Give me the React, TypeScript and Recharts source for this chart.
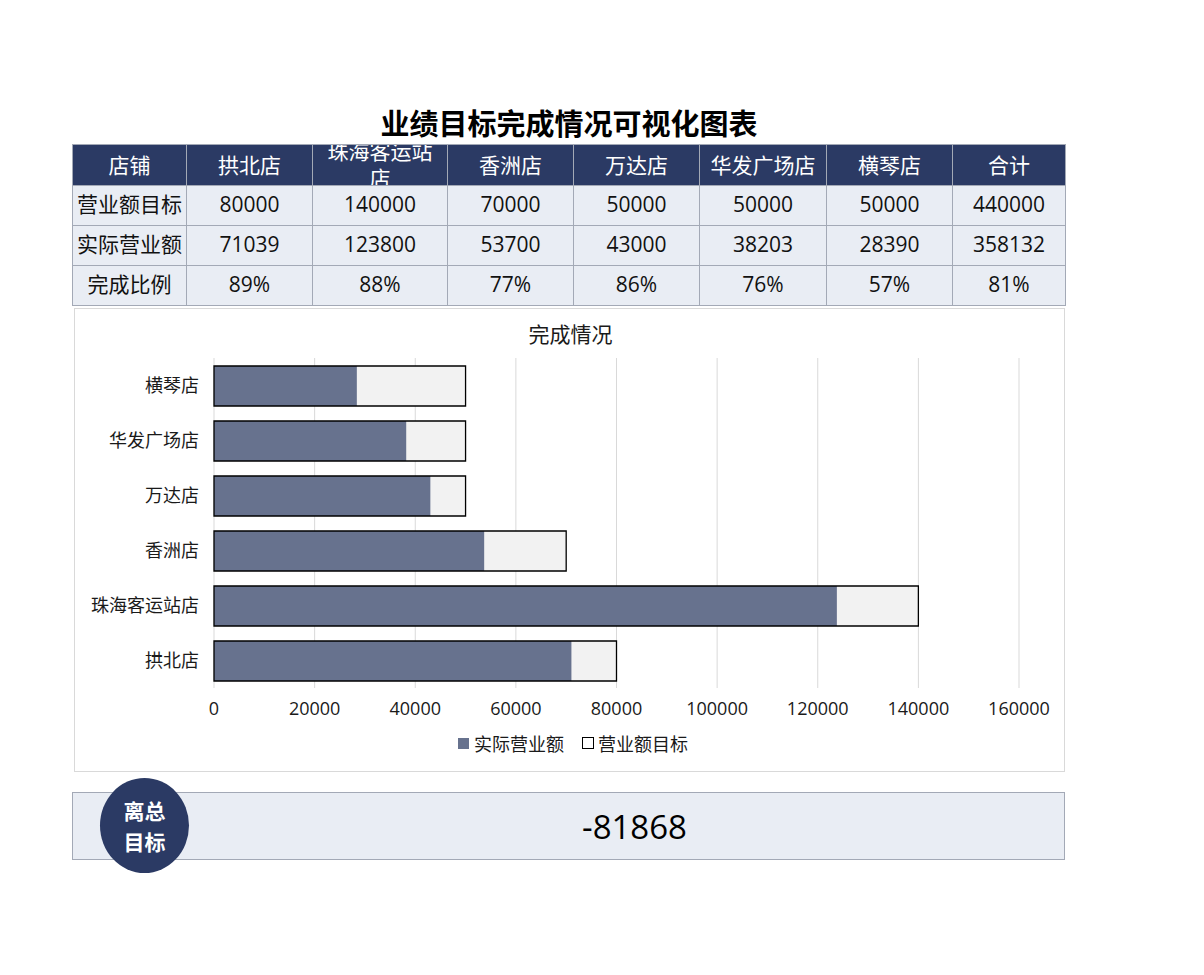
import React from 'react';
import { BarChart, Bar, XAxis, YAxis, CartesianGrid, Legend } from 'recharts';

const stores = ['拱北店', '珠海客运站店', '香洲店', '万达店', '华发广场店', '横琴店'];
const targets = [80000, 140000, 70000, 50000, 50000, 50000];
const actuals = [71039, 123800, 53700, 43000, 38203, 28390];
const xTicks = [0, 20000, 40000, 60000, 80000, 100000, 120000, 140000, 160000];

const FONT = '"Open Sans", "Noto Sans CJK SC", sans-serif';
const NAVY = '#2b3a64';
const PALE = '#e9edf4';
const LINE = '#a3a9b6';
const BAR = '#67728e';

const chartData = stores.map((s, i) => ({ store: s, target: targets[i], actual: actuals[i] }));

const totalTarget = targets.reduce((a, b) => a + b, 0);
const totalActual = actuals.reduce((a, b) => a + b, 0);
const pct = (a: number, t: number) => Math.round((a / t) * 100) + '%';

const colWidths = [113, 125, 134, 125, 125, 126, 125, 112];

const HeaderCell = ({ text, w }: { text: string; w: number }) => (
  <td style={{ width: w, height: 40, padding: 0, border: `1px solid ${LINE}`, background: NAVY, color: '#fff' }}>
    <div style={{ height: 40, overflow: 'hidden', display: 'flex', alignItems: 'center', justifyContent: 'center' }}>
      <div style={{ width: 108, textAlign: 'center', lineHeight: '27px', fontSize: 21, flexShrink: 0 }}>{text}</div>
    </div>
  </td>
);

const BodyCell = ({ text, w }: { text: string | number; w: number }) => (
  <td style={{ width: w, height: 39, padding: 0, border: `1px solid ${LINE}`, background: PALE, textAlign: 'center', fontSize: 21, color: '#111' }}>
    <div style={{ height: 39, lineHeight: '37px', overflow: 'hidden' }}>{text}</div>
  </td>
);

const LegendBox = () => (
  <div style={{ display: 'flex', justifyContent: 'center', alignItems: 'center', height: 30, fontSize: 18, color: '#1a1a1a', paddingLeft: 52, fontFamily: FONT }}>
    <span style={{ display: 'inline-block', width: 11, height: 11, background: BAR, marginRight: 5 }} />
    <span style={{ marginRight: 18 }}>实际营业额</span>
    <span style={{ display: 'inline-block', width: 10, height: 10, background: '#fff', border: '1px solid #000', marginRight: 4 }} />
    <span>营业额目标</span>
  </div>
);

export default function App() {
  const rows: (string | number)[][] = [
    ['营业额目标', ...targets, totalTarget],
    ['实际营业额', ...actuals, totalActual],
    ['完成比例', ...targets.map((t, i) => pct(actuals[i], t)), pct(totalActual, totalTarget)],
  ];

  return (
    <div style={{ position: 'absolute', left: 0, top: 0, width: 1204, height: 975, background: '#fff', fontFamily: FONT }}>
      <div style={{ position: 'absolute', left: 0, top: 102, width: 1138, textAlign: 'center', fontSize: 29, fontWeight: 700, color: '#000', lineHeight: '40px', fontFamily: '"Noto Sans CJK SC", sans-serif' }}>
        业绩目标完成情况可视化图表
      </div>

      <table style={{ position: 'absolute', left: 72, top: 144, borderCollapse: 'collapse', tableLayout: 'fixed', fontFamily: FONT }}>
        <tbody>
          <tr>
            {['店铺', ...stores, '合计'].map((h, i) => (
              <HeaderCell key={i} text={h} w={colWidths[i]} />
            ))}
          </tr>
          {rows.map((r, ri) => (
            <tr key={ri}>
              {r.map((c, ci) => (
                <BodyCell key={ci} text={c} w={colWidths[ci]} />
              ))}
            </tr>
          ))}
        </tbody>
      </table>

      <div style={{ position: 'absolute', left: 74, top: 308, width: 991, height: 464, border: '1px solid #d9d9d9', boxSizing: 'border-box' }}>
        <div style={{ position: 'absolute', left: 0, top: 9, width: 991, textAlign: 'center', fontSize: 21, color: '#1a1a1a' }}>完成情况</div>
        <BarChart
          width={989}
          height={462}
          data={chartData}
          layout="vertical"
          margin={{ top: 49, right: 45, bottom: 13, left: 0 }}
          barSize={40}
        >
          <CartesianGrid horizontal={false} stroke="#d9d9d9" />
          <XAxis
            type="number"
            domain={[0, 160000]}
            ticks={xTicks}
            axisLine={false}
            tickLine={false}
            tickMargin={8}
            height={40}
            tick={{ fontSize: 18, fill: '#1a1a1a', fontFamily: FONT }}
          />
          <YAxis yAxisId="actual" type="category" dataKey="store" reversed hide width={0} />
          <YAxis yAxisId="outline" type="category" dataKey="store" reversed hide width={0} />
          <YAxis
            yAxisId="target"
            type="category"
            dataKey="store"
            reversed
            width={139}
            axisLine={false}
            tickLine={false}
            tickMargin={9}
            tick={{ fontSize: 18, fill: '#1a1a1a', fontFamily: FONT }}
          />
          <Bar yAxisId="target" dataKey="target" name="营业额目标" fill="#f2f2f2" isAnimationActive={false} />
          <Bar yAxisId="actual" dataKey="actual" name="实际营业额" fill={BAR} isAnimationActive={false} />
          <Bar yAxisId="outline" dataKey="target" fill="none" stroke="#000" strokeWidth={1.3} legendType="none" isAnimationActive={false} />
          <Legend verticalAlign="bottom" height={30} content={() => <LegendBox />} />
        </BarChart>
      </div>

      <div style={{ position: 'absolute', left: 72, top: 792, width: 993, height: 68, background: PALE, border: `1px solid ${LINE}`, boxSizing: 'border-box' }}>
        <div style={{ position: 'absolute', left: 380, top: 0, width: 363, height: 66, display: 'flex', alignItems: 'center', justifyContent: 'center', fontSize: 33, color: '#000', fontFamily: '"Open Sans", "Noto Sans", sans-serif' }}>
          {totalActual - totalTarget}
        </div>
      </div>
      <div style={{ position: 'absolute', left: 100, top: 778, width: 89, height: 95, borderRadius: '50%', background: NAVY, color: '#fff', display: 'flex', flexDirection: 'column', alignItems: 'center', justifyContent: 'center', fontSize: 21, fontWeight: 700, lineHeight: '31px', fontFamily: '"Noto Sans CJK SC", sans-serif' }}>
        <div>离总</div>
        <div>目标</div>
      </div>
    </div>
  );
}
